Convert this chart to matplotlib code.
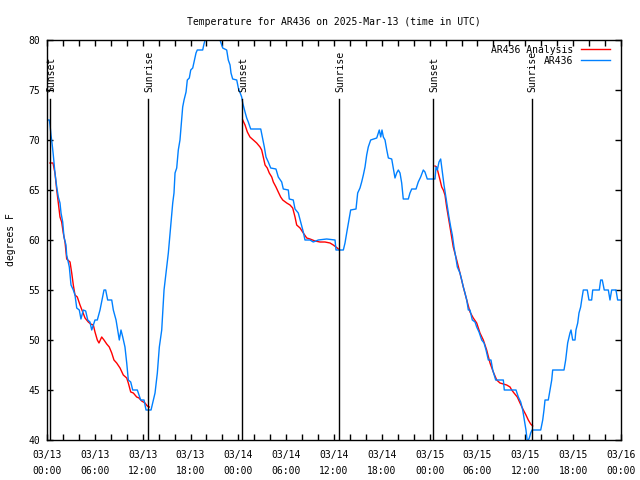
import numpy as np
import matplotlib
matplotlib.use('Agg')
import matplotlib.pyplot as plt

# hours since 03/13 00:00 UTC, temperature in degrees F
obs_hours = [0.00, 0.29, 0.38, 0.50, 0.63, 0.79, 1.00, 1.22, 1.42, 1.63, 1.76, 1.97, 2.13, 2.38, 2.47,
             2.80, 3.01, 3.30, 3.51, 3.73, 4.05, 4.26, 4.55, 4.85, 5.11, 5.39, 5.61, 6.02, 6.31, 6.65,
             6.90, 7.15, 7.36, 7.61, 8.12, 8.32, 8.66, 8.87, 9.07, 9.28, 9.50, 9.78, 10.00, 10.20, 10.50,
             10.75, 11.33, 11.54, 11.75, 12.17, 12.42, 13.05, 13.26, 13.55, 13.84, 14.09, 14.39, 14.68,
             14.93, 15.22, 15.47, 15.77, 15.93, 16.06, 16.27, 16.47, 16.68, 17.02, 17.19, 17.44, 17.60,
             17.85, 18.03, 18.28, 18.44, 18.69, 18.85, 19.53, 19.69, 19.91, 20.95, 21.70, 22.04, 22.54,
             22.74, 22.96, 23.08, 23.29, 23.80, 24.00, 24.42, 24.55, 24.84, 25.05, 25.25, 25.55, 26.81,
             27.01, 27.26, 27.47, 27.76, 28.06, 28.72, 29.01, 29.44, 29.64, 30.27, 30.39, 30.89, 31.11,
             31.52, 31.82, 32.15, 32.36, 32.99, 33.40, 34.03, 35.08, 36.13, 36.25, 37.17, 37.38, 37.59,
             37.88, 38.09, 38.76, 38.97, 39.26, 39.47, 39.68, 39.89, 40.10, 40.30, 40.60, 41.36, 41.68,
             41.86, 42.02, 42.19, 42.40, 42.62, 42.82, 43.24, 43.44, 43.65, 43.86, 44.07, 44.28, 44.49,
             44.69, 45.32, 45.53, 45.75, 46.29, 46.57, 46.87, 47.20, 47.41, 47.70, 48.67, 48.80, 48.96,
             49.17, 49.38, 49.63, 49.80, 50.05, 50.21, 50.42, 50.64, 50.84, 51.05, 51.27, 51.47, 51.80,
             52.02, 52.22, 52.43, 52.65, 52.85, 53.06, 53.35, 53.69, 53.90, 54.19, 54.53, 54.82, 55.07,
             55.36, 55.69, 55.91, 56.28, 57.24, 57.36, 58.83, 59.12, 59.42, 59.67, 59.87, 60.08, 60.25,
             60.50, 60.67, 60.84, 61.93, 62.18, 62.34, 62.47, 62.88, 63.09, 63.31, 63.43, 64.85, 65.06,
             65.31, 65.60, 65.73, 65.94, 66.23, 66.35, 66.57, 66.73, 66.94, 67.07, 67.27, 67.77, 67.98,
             68.32, 68.45, 69.28, 69.45, 69.65, 69.90, 70.41, 70.62, 70.83, 71.37, 71.58, 72.00]
obs_temp = [72, 72, 71.5, 70.5, 69.7, 68.5, 66.7, 65.3, 64.3, 63.7, 62.7, 61.8, 60.3, 59.5, 58.5,
            57.3, 55.5, 55, 54.5, 53.2, 53, 52.1, 53, 52.9, 52, 51.8, 51, 52, 52, 53,
            54, 55, 55, 54, 54, 53, 52, 51, 50, 51, 50.3, 49.3, 47.7, 46, 45.8,
            45, 45, 44.5, 44, 44, 43, 43, 43.7, 44.7, 46.7, 49.3, 51, 55,
            56.7, 58.7, 61, 63.7, 64.7, 66.7, 67.2, 69, 70, 73.3, 74, 74.8, 76,
            76.2, 77, 77.2, 77.8, 78.7, 79, 79, 79.6, 80.2, 81.5, 80, 79.2, 79,
            78, 77.5, 76.7, 76.1, 76, 75.2, 74.3, 73.7, 72.8, 72.2, 71.8, 71.1, 71.1,
            70.3, 69.3, 68.3, 67.8, 67.2, 67.1, 66.3, 65.8, 65.1, 65, 64.1, 64, 63.1,
            62.7, 61.8, 60.8, 60, 60, 59.8, 60, 60.1, 60, 59, 59, 59.7, 60.7,
            62, 63, 63.1, 64.7, 65.2, 65.8, 66.5, 67.3, 68.5, 69.3, 70, 70.2, 71,
            70.3, 71, 70.3, 70, 69, 68.2, 68.1, 67.2, 66.2, 66.7, 67, 66.7, 65.7,
            64.1, 64.1, 64.7, 65.1, 65.1, 65.8, 66.3, 67, 66.8, 66.1, 66.1, 67.3, 67,
            67.8, 68.1, 66.5, 65.5, 64.2, 63.3, 62.3, 61.3, 60.5, 59.3, 58.3, 57.3, 56.7,
            56, 55.3, 54.7, 54, 53, 53, 52, 51.8, 51.3, 50.8, 50, 49.7, 49,
            48, 48, 47, 46, 46, 45, 45, 44.3, 43.8, 43, 42, 41, 39.8,
            40.2, 40.7, 41, 41, 42, 43, 44, 44, 45, 46, 47, 47, 48,
            49.7, 50.7, 51, 50, 50, 51, 51.7, 52.7, 53.3, 54, 55, 55, 54,
            54, 55, 55, 56, 56, 55, 55, 54, 55, 55, 54, 54]

# analysis: one segment per night
ana1_hours = [0.38, 0.75, 1.00, 1.22, 1.42, 1.63, 1.84, 2.04, 2.26, 2.47, 2.89, 3.10, 3.30, 3.51,
              3.80, 4.14, 4.48, 4.77, 5.18, 5.48, 5.81, 6.02, 6.31, 6.52, 6.86, 7.15, 7.49, 7.81,
              8.12, 8.40, 8.74, 9.16, 9.57, 10.00, 10.20, 10.50, 10.83, 11.25, 11.54, 11.88, 12.29,
              12.58, 12.83]
ana1_temp = [67.7, 67.7, 66.7, 65, 63.7, 62.3, 61.8, 60.7, 59.8, 58.1, 57.8, 56.7, 55.5, 54.5,
             54.3, 53.5, 52.8, 52.2, 51.8, 51.6, 51.5, 50.8, 50, 49.7, 50.3, 50, 49.6, 49.3,
             48.7, 48, 47.7, 47.2, 46.5, 46.2, 45.7, 44.8, 44.7, 44.3, 44.2, 43.9, 43.7,
             43.4, 43.3]
ana2_hours = [24.55, 24.84, 25.13, 25.46, 25.88, 26.30, 26.72, 26.93, 27.13, 27.35, 27.63, 27.88,
              28.19, 28.39, 28.72, 29.01, 29.31, 29.57, 30.07, 30.48, 30.82, 31.11, 31.32, 31.74,
              32.15, 32.58, 32.99, 33.62, 34.24, 34.87, 35.50, 35.91, 36.41, 36.67]
ana2_temp = [72, 71.5, 70.8, 70.3, 70, 69.7, 69.3, 69, 68.3, 67.5, 67.2, 66.7,
             66.3, 65.8, 65.3, 64.8, 64.3, 64, 63.7, 63.5, 63.2, 62.3, 61.5, 61.2,
             60.7, 60.2, 60.1, 59.9, 59.8, 59.8, 59.7, 59.5, 59.2, 59]
ana3_hours = [48.67, 48.88, 49.08, 49.30, 49.51, 49.71, 49.92, 50.13, 50.55, 50.96, 51.39, 51.80,
              52.22, 52.65, 53.06, 53.47, 53.90, 54.31, 54.73, 55.15, 55.57, 55.98, 56.41, 56.82,
              57.24, 57.66, 58.08, 58.29, 58.58, 58.99, 59.33, 59.75, 60.08, 60.37, 60.67, 60.92]
ana3_temp = [67.4, 67.3, 66.7, 66, 65.3, 65, 64.5, 63.3, 61.3, 59.3, 58, 56.7,
             55.3, 54, 52.8, 52.2, 51.7, 50.7, 50, 49, 47.7, 46.8, 46, 45.7,
             45.6, 45.5, 45.3, 45, 44.7, 44.3, 43.7, 43, 42.5, 42, 41.6, 41.4]

event_hours = [0.41, 12.71, 24.48, 36.67, 48.46, 60.80]
event_names = ['Sunset', 'Sunrise', 'Sunset', 'Sunrise', 'Sunset', 'Sunrise']

tick_hours = list(range(0, 73, 6))
tick_labels = ['03/13\n00:00', '03/13\n06:00', '03/13\n12:00', '03/13\n18:00',
               '03/14\n00:00', '03/14\n06:00', '03/14\n12:00', '03/14\n18:00',
               '03/15\n00:00', '03/15\n06:00', '03/15\n12:00', '03/15\n18:00',
               '03/16\n00:00']

FONT = 'DejaVu Sans Mono'
plt.rcParams['font.family'] = FONT
plt.rcParams['font.size'] = 7

fig = plt.figure(figsize=(6.4, 4.8), dpi=100)
ax = fig.add_axes([47 / 640, 40 / 480, 574 / 640, 400 / 480])

red = '#ff0000'
blue = '#0080ff'

ax.plot(ana1_hours, ana1_temp, color=red, lw=1.0, label='AR436 Analysis')
ax.plot(ana2_hours, ana2_temp, color=red, lw=1.0)
ax.plot(ana3_hours, ana3_temp, color=red, lw=1.0)
ax.plot(obs_hours, obs_temp, color=blue, lw=1.0, label='AR436')

for h, name in zip(event_hours, event_names):
    ax.plot([h, h], [40, 74.1], color='black', lw=1.0)
    ax.text(h + 0.12, 74.8, name, rotation=90, ha='center', va='bottom', fontsize=7)

ax.set_xlim(0, 72)
ax.set_ylim(40, 80)
ax.set_xticks(tick_hours)
ax.set_xticklabels(tick_labels, linespacing=1.75)
ax.set_xticks(np.arange(0, 73, 2), minor=True)
ax.set_yticks(np.arange(40, 81, 5))
ax.tick_params(which='both', direction='in', top=True, right=True, length=4, width=1,
               labelsize=7, pad=5)
ax.tick_params(axis='x', which='major', pad=7)
for s in ax.spines.values():
    s.set_linewidth(1.0)

ax.set_ylabel('degrees F', fontsize=7, labelpad=9)
ax.set_title('Temperature for AR436 on 2025-Mar-13 (time in UTC)', fontsize=7, pad=11)

ax.legend(loc='upper right', bbox_to_anchor=(1.0, 1.0 + 6 / 400), frameon=False,
          markerfirst=False, handlelength=3.0, fontsize=7, borderaxespad=0.7,
          labelspacing=0.1, handletextpad=0.8)

fig.savefig('out.png', dpi=100)
